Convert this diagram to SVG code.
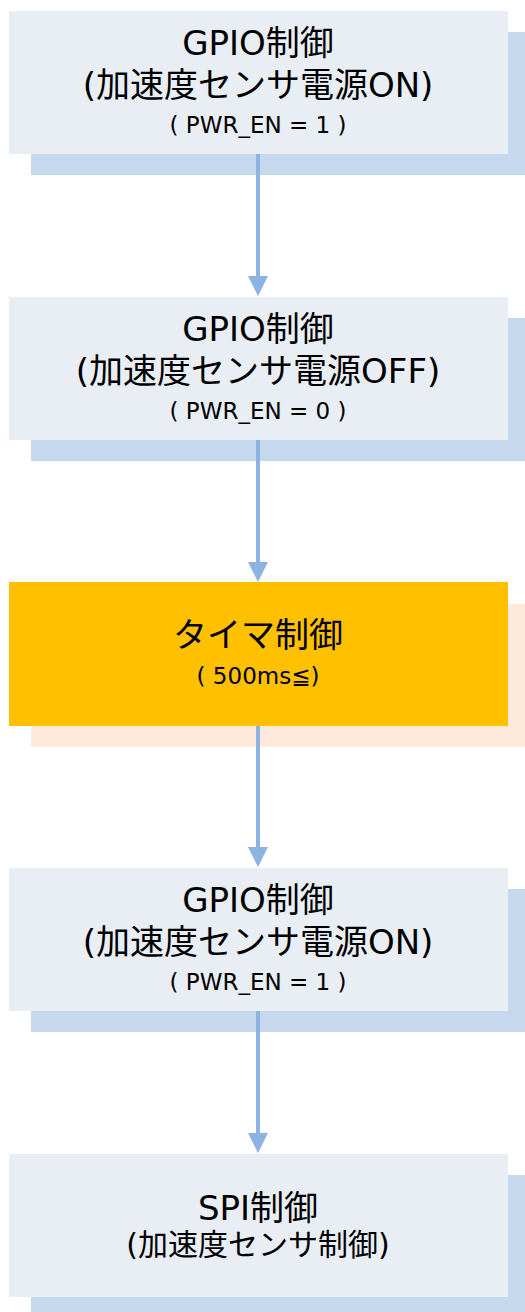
<svg xmlns="http://www.w3.org/2000/svg" width="525" height="1312" viewBox="0 0 525 1312">
<style>
.box{fill:#E9EDF4}
.sh{fill:#C6D8EE}
.obox{fill:#FFC000}
.osh{fill:#FDEADA}
.t{font-family:"DejaVu Sans","Noto Sans CJK JP",sans-serif;fill:#000;text-anchor:middle}
.big{font-size:34px}
.mid{font-size:30px}
.small{font-size:23px}
.conn{stroke:#8DB3E2;stroke-width:4;fill:none}
.head{fill:#8DB3E2}
</style>
<rect width="525" height="1312" fill="#fff"/>
<g id="node1">
<rect class="sh" x="31" y="32" width="494" height="143"/>
<rect class="box" x="9" y="11" width="499" height="143"/>
<text class="t big" x="258" y="55">GPIO制御</text>
<text class="t big" x="258" y="97">(加速度センサ電源ON)</text>
<text class="t small" x="258" y="133">( PWR_EN = 1 )</text>
</g>
<g id="node2">
<rect class="sh" x="31" y="318" width="494" height="143"/>
<rect class="box" x="9" y="297" width="499" height="143"/>
<text class="t big" x="258" y="341">GPIO制御</text>
<text class="t big" x="258" y="383">(加速度センサ電源OFF)</text>
<text class="t small" x="258" y="419">( PWR_EN = 0 )</text>
</g>
<g id="node3">
<rect class="osh" x="31" y="604" width="494" height="143"/>
<rect class="obox" x="9" y="582" width="499" height="144"/>
<text class="t big" x="258" y="647">タイマ制御</text>
<text class="t small" x="258" y="684">( 500ms≦)</text>
</g>
<g id="node4">
<rect class="sh" x="31" y="889" width="494" height="143"/>
<rect class="box" x="9" y="868" width="499" height="143"/>
<text class="t big" x="258" y="912">GPIO制御</text>
<text class="t big" x="258" y="954">(加速度センサ電源ON)</text>
<text class="t small" x="258" y="990">( PWR_EN = 1 )</text>
</g>
<g id="node5">
<rect class="sh" x="31" y="1175" width="494" height="137"/>
<rect class="box" x="9" y="1154" width="499" height="143"/>
<text class="t big" x="258" y="1220">SPI制御</text>
<text class="t mid" x="258" y="1255">(加速度センサ制御)</text>
</g>
<g id="connectors">
<line class="conn" x1="258" y1="154" x2="258" y2="278"/>
<polygon class="head" points="248,276 268,276 258,296"/>
<line class="conn" x1="258" y1="440" x2="258" y2="564"/>
<polygon class="head" points="248,562 268,562 258,582"/>
<line class="conn" x1="258" y1="726" x2="258" y2="849"/>
<polygon class="head" points="248,847 268,847 258,867"/>
<line class="conn" x1="258" y1="1011" x2="258" y2="1135"/>
<polygon class="head" points="248,1133 268,1133 258,1153"/>
</g>
</svg>
